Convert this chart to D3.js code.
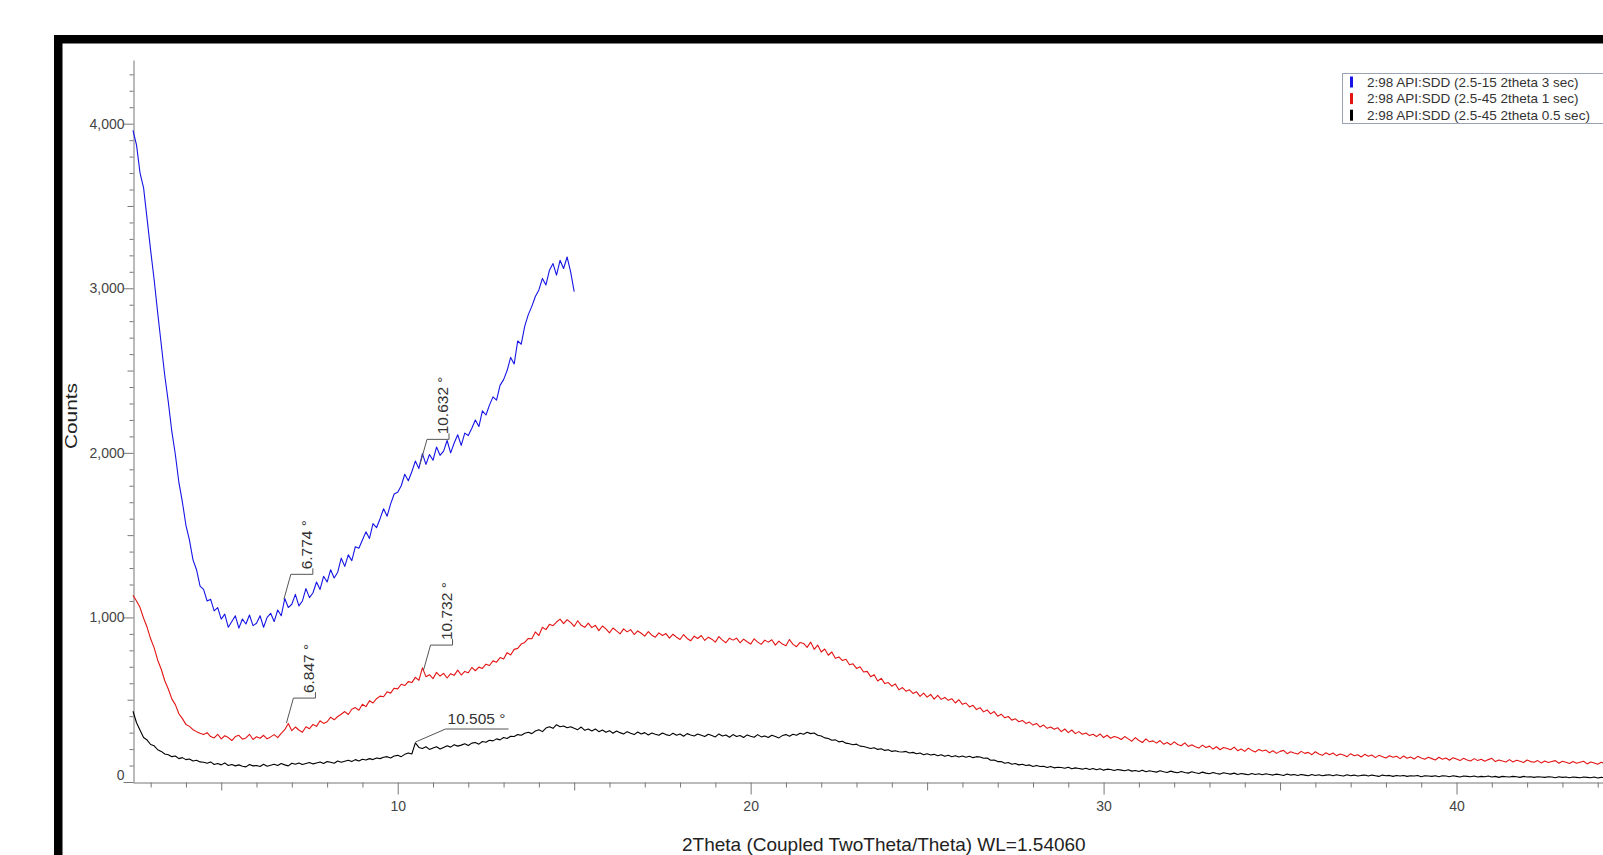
<!DOCTYPE html>
<html>
<head>
<meta charset="utf-8">
<script src="https://cdn.jsdelivr.net/npm/d3@7"></script>
<style>
  body { margin: 0; background: #fff; }
  svg { display: block; font-family: "Liberation Sans", Arial, sans-serif; }
</style>
</head>
<body>
<div id="chart"></div>
<script>
// scan grid, degrees 2theta
var scanStart = 2.5
var scanStep = 0.1

// counts per step
var blueCounts = [3960, 3870, 3700, 3610, 3420, 3230, 3050, 2850, 2660, 2470,
  2310, 2130, 1990, 1820, 1700, 1560, 1470, 1350, 1290, 1190,
  1170, 1100, 1110, 1040, 1060,
  990, 1020, 940, 975, 1010, 935, 990, 960, 1015, 950,
  965, 1010, 940, 1000, 1025, 975, 1045, 1010, 1115, 1060,
  1080, 1140, 1070, 1100, 1175, 1120, 1150, 1215, 1170, 1250,
  1215, 1290, 1240, 1275, 1360, 1310, 1380, 1345, 1430, 1420,
  1470, 1520, 1480, 1570, 1545, 1600, 1660, 1615, 1690, 1750,
  1760, 1800, 1870, 1830, 1885, 1950, 1905, 1995, 1930, 1990,
  1955, 2035, 1985, 2010, 2075, 2000, 2060, 2110, 2045, 2120,
  2105, 2150, 2200, 2160, 2255, 2230, 2290, 2340, 2320, 2410,
  2445, 2500, 2580, 2540, 2680, 2660, 2770, 2840, 2890, 2950,
  2990, 3060, 3020, 3110, 3150, 3080, 3170, 3120, 3190, 3100,
  2980]

var redCounts = [1135, 1100, 1060, 995, 940, 870, 815, 740, 685, 615,
  565, 505, 470, 415, 385, 350, 338, 318, 306, 296,
  288, 300, 276, 268, 290, 262, 281, 270, 252, 276,
  284, 260, 268, 290, 258, 275, 266, 284, 262, 274,
  288, 270, 296, 318, 356, 312, 334, 316, 302, 336,
  324, 350, 338, 372, 356, 366, 394, 378, 398, 412,
  428, 410, 442, 452, 436, 472, 458, 494, 480, 506,
  522, 518, 548, 540, 570, 566, 594, 586, 610, 604,
  636, 618, 694, 640, 652, 628, 666, 644, 660, 632,
  658, 648, 680, 650, 672, 664, 696, 676, 698, 690,
  716, 708, 736, 728, 756, 748, 786, 772, 806, 812,
  838, 848, 872, 870, 912, 890, 940, 926, 958, 950,
  972, 990, 962, 986, 970, 945, 980, 952, 940, 965,
  938, 952, 920, 948, 930, 906, 936, 918, 900, 930,
  912, 926, 896, 918, 904, 886, 914, 892, 880, 906,
  890, 902, 874, 898, 880, 866, 896, 872, 858, 886,
  872, 890, 860, 880, 868, 850, 884, 862, 846, 874,
  862, 874, 846, 868, 852, 838, 870, 850, 836, 862,
  850, 864, 832, 856, 838, 828, 866, 836, 822, 848,
  842, 818, 850, 806, 832, 790, 808, 770, 790, 752,
  760, 738, 746, 712, 718, 690, 700, 668, 672, 640,
  652, 614, 630, 598, 604, 582, 596, 560, 574, 552,
  560, 538, 548, 520, 540, 516, 532, 504, 526, 502,
  514, 496, 506, 480, 500, 472, 480, 456, 466, 440,
  452, 426, 438, 414, 428, 400, 412, 390, 398, 376,
  384, 366, 374, 356, 364, 346, 356, 334, 346, 326,
  334, 320, 330, 306, 322, 300, 316, 294, 306, 290,
  298, 282, 290, 276, 292, 270, 284, 266, 276, 270,
  258, 276, 262, 248, 270, 252, 240, 262, 244, 250,
  236, 252, 230, 240, 226, 244, 228, 220, 238, 216,
  226, 214, 206, 224, 210, 218, 200, 214, 196, 210,
  204, 196, 212, 190, 200, 186, 206, 192, 182, 198,
  188, 194, 178, 190, 174, 186, 192, 172, 184, 176,
  170, 186, 174, 180, 166, 184, 170, 162, 178, 166,
  176, 160, 170, 164, 154, 172, 160, 166, 152, 168,
  156, 164, 148, 162, 154, 146, 160, 150, 156, 142,
  158, 144, 152, 140, 156, 146, 138, 150, 142, 134,
  150, 138, 146, 132, 148, 140, 130, 144, 134, 128,
  142, 130, 138, 126, 136, 144, 124, 134, 128, 122,
  136, 122, 132, 126, 118, 134, 124, 120, 130, 116,
  128, 118, 124, 130, 114, 126, 120, 112, 124, 114,
  120, 126, 110, 122, 116, 108, 120, 112, 118, 106,
  116, 108, 118, 104, 112, 106]

var blackCounts = [430, 360, 315, 270, 255, 228, 220, 196, 186, 170,
  166, 154, 158, 142, 148, 136, 140, 128, 132, 122,
  120, 114, 122, 106, 112, 104, 116, 100, 106, 98,
  104, 96, 92, 106, 98, 100, 94, 108, 96, 102,
  108, 100, 112, 104, 98, 114, 108, 116, 106, 112,
  118, 110, 116, 122, 112, 124, 120, 114, 128, 120,
  126, 132, 124, 136, 128, 138, 134, 142, 136, 146,
  142, 150, 154, 146, 158, 162, 154, 168, 176, 170,
  238, 210, 204, 214, 198, 206, 214, 200, 210, 220,
  212, 226, 218, 224, 232, 222, 236, 240, 230, 246,
  242, 254, 250, 262, 256, 270, 264, 278, 276, 288,
  284, 296, 302, 294, 310, 318, 306, 328, 336, 326,
  348, 336, 340, 330, 336, 326, 318, 334, 314, 322,
  310, 322, 306, 316, 302, 312, 296, 310, 300, 292,
  306, 296, 288, 304, 292, 300, 286, 298, 290, 284,
  298, 288, 282, 296, 284, 292, 278, 294, 286, 280,
  292, 284, 276, 290, 282, 274, 292, 280, 286, 272,
  288, 276, 282, 270, 286, 278, 272, 288, 274, 280,
  270, 284, 276, 268, 282, 288, 278, 290, 284, 296,
  290, 302, 294, 298, 284, 280, 268, 264, 254, 256,
  244, 248, 236, 232, 226, 230, 218, 216, 210, 204,
  208, 198, 202, 192, 196, 186, 190, 184, 182, 186,
  176, 180, 172, 176, 166, 172, 164, 168, 160, 166,
  156, 162, 154, 160, 152, 158, 150, 156, 148, 154,
  152, 144, 146, 132, 134, 124, 124, 114, 118, 108,
  112, 104, 108, 100, 104, 94, 100, 94, 96, 88,
  94, 86, 90, 88, 84, 90, 80, 86, 82, 78,
  84, 76, 82, 74, 80, 72, 78, 76, 70, 76,
  72, 68, 74, 66, 70, 64, 72, 62, 68, 64,
  60, 68, 62, 58, 66, 60, 56, 64, 58, 54,
  62, 56, 52, 60, 54, 50, 58, 52, 48, 56,
  52, 48, 54, 46, 52, 48, 44, 52, 46, 50,
  44, 50, 46, 42, 48, 44, 40, 48, 42, 46,
  40, 46, 42, 38, 46, 40, 44, 38, 42, 44,
  38, 44, 40, 36, 44, 38, 42, 36, 40, 42,
  36, 42, 38, 34, 42, 38, 40, 34, 40, 36,
  40, 34, 38, 36, 40, 32, 38, 36, 34, 38,
  32, 38, 36, 32, 38, 34, 30, 36, 34, 32,
  36, 30, 34, 32, 36, 30, 34, 28, 34, 32,
  30, 34, 32, 28, 34, 30, 32, 28, 32, 30,
  28, 32, 30, 26, 32, 28, 30, 26, 30, 28,
  26, 30, 28, 26, 30, 24, 28, 26, 30, 26,
  28, 24, 28, 26, 28, 24]

var seriesNames = ['2:98 API:SDD (2.5-15 2theta 3 sec)',
  '2:98 API:SDD (2.5-45 2theta 1 sec)',
  '2:98 API:SDD (2.5-45 2theta 0.5 sec)']

// labelled peaks
var peakSeries = ['blue', 'blue', 'red', 'red', 'black']
var peakAngles = [6.774, 10.632, 6.847, 10.732, 10.505]
var peakCounts = [1110, 1930, 358, 680, 243]

var xMajorTicks = [10, 20, 30, 40]
var yMajorTicks = [0, 1000, 2000, 3000, 4000]

var colours = {blue: '#1515e6', red: '#e31414', black: '#000000'}

var width = 1603, height = 855

var svg = d3.select('#chart')
    .append('svg')
    .attr('width', width)
    .attr('height', height)

// scales
var x = d3.scaleLinear()
    .domain([2.5, 45])
    .range([133, 1633])

var y = d3.scaleLinear()
    .domain([0, 4387])
    .range([782, 60])

// thick black frame round the plot
svg.append('rect')
    .attr('x', 58.25)
    .attr('y', 39.25)
    .attr('width', 1700)
    .attr('height', 1000)
    .attr('fill', 'none')
    .attr('stroke', '#000')
    .attr('stroke-width', 8.5)

// x axis
var xAxis = svg.append('g')
    .attr('transform', 'translate(0,782.5)')
    .call(d3.axisBottom(x)
        .tickValues(d3.range(3, 46))
        .tickSizeOuter(0)
        .tickFormat(function(d) { return xMajorTicks.indexOf(d) >= 0 ? d : '' }))
    .attr('font-family', null)
    .attr('font-size', 14)

xAxis.select('.domain').attr('stroke', '#777')
xAxis.selectAll('.tick line')
    .attr('stroke', '#777')
    .attr('y2', function(d) { return d % 10 === 0 ? 12 : d % 5 === 0 ? 8 : 5 })
xAxis.selectAll('.tick text')
    .attr('y', 19)
    .attr('fill', '#444')

// y axis
var yAxis = svg.append('g')
    .attr('transform', 'translate(133.5,0)')
    .call(d3.axisLeft(y)
        .tickValues(d3.range(0, 4400, 100))
        .tickSizeOuter(0)
        .tickFormat(function(d) { return yMajorTicks.indexOf(d) >= 0 ? d3.format(',')(d) : '' }))
    .attr('font-family', null)
    .attr('font-size', 14)

yAxis.select('.domain').attr('stroke', '#777')
yAxis.selectAll('.tick line')
    .attr('stroke', '#777')
    .attr('x2', function(d) { return d % 1000 === 0 ? -10 : d % 500 === 0 ? -6 : -4 })
yAxis.selectAll('.tick text')
    .attr('fill', '#444')
    .filter(function(d) { return d === 0 })
    .attr('transform', 'translate(0,-7)')

// axis titles
svg.append('text')
    .attr('transform', 'translate(77,416) rotate(-90)')
    .attr('text-anchor', 'middle')
    .attr('textLength', 66)
    .attr('lengthAdjust', 'spacingAndGlyphs')
    .style('font-size', '17px')
    .attr('fill', '#222')
    .text('Counts')

svg.append('text')
    .attr('x', 682)
    .attr('y', 851)
    .style('font-size', '19px')
    .attr('fill', '#222')
    .text('2Theta (Coupled TwoTheta/Theta) WL=1.54060')

// scans
var line = d3.line()
    .x(function(d, i) { return x(scanStart + i * scanStep) })
    .y(function(d) { return y(d) })

var scans = [['black', blackCounts], ['red', redCounts], ['blue', blueCounts]]
scans.forEach(function(s) {
    svg.append('path')
        .datum(s[1])
        .attr('d', line)
        .attr('fill', 'none')
        .attr('stroke', colours[s[0]])
        .attr('stroke-width', 1.1)
        .attr('stroke-linejoin', 'round')
})

// peak labels
peakAngles.forEach(function(a, i) {
    var px = x(a), py = y(peakCounts[i])
    var label = a.toFixed(3) + ' \u00b0'
    var g = svg.append('g')
    if (peakSeries[i] === 'black') {
        g.append('path')
            .attr('d', 'M' + px + ',' + py + 'L' + (px + 30) + ',' + (py - 13) + 'H' + (px + 93))
            .attr('fill', 'none')
            .attr('stroke', '#555')
        g.append('text')
            .attr('x', px + 32)
            .attr('y', py - 18)
            .style('font-size', '15.5px')
            .attr('fill', '#333')
            .text(label)
    } else {
        var ex = px + 7, ey = py - 25
        g.append('path')
            .attr('d', 'M' + px + ',' + py + 'L' + ex + ',' + ey + 'H' + (ex + 22) + 'V' + (ey - 6))
            .attr('fill', 'none')
            .attr('stroke', '#555')
        g.append('text')
            .attr('transform', 'translate(' + (ex + 21) + ',' + (ey - 5) + ') rotate(-90)')
            .style('font-size', '15.5px')
            .attr('fill', '#333')
            .text(label)
    }
})

// legend
var legend = svg.append('g')
legend.append('rect')
    .attr('x', 1342.5)
    .attr('y', 73.5)
    .attr('width', 300)
    .attr('height', 50)
    .attr('fill', '#fff')
    .attr('stroke', '#9aa3b5')

seriesNames.forEach(function(n, i) {
    legend.append('rect')
        .attr('x', 1350)
        .attr('y', 76.5 + i * 16.6)
        .attr('width', 3)
        .attr('height', 11)
        .attr('fill', colours[['blue', 'red', 'black'][i]])
    legend.append('text')
        .attr('x', 1367)
        .attr('y', 82 + i * 16.6)
        .attr('dy', '0.35em')
        .style('font-size', '13.5px')
        .attr('fill', '#333')
        .text(n)
})
</script>
</body>
</html>
